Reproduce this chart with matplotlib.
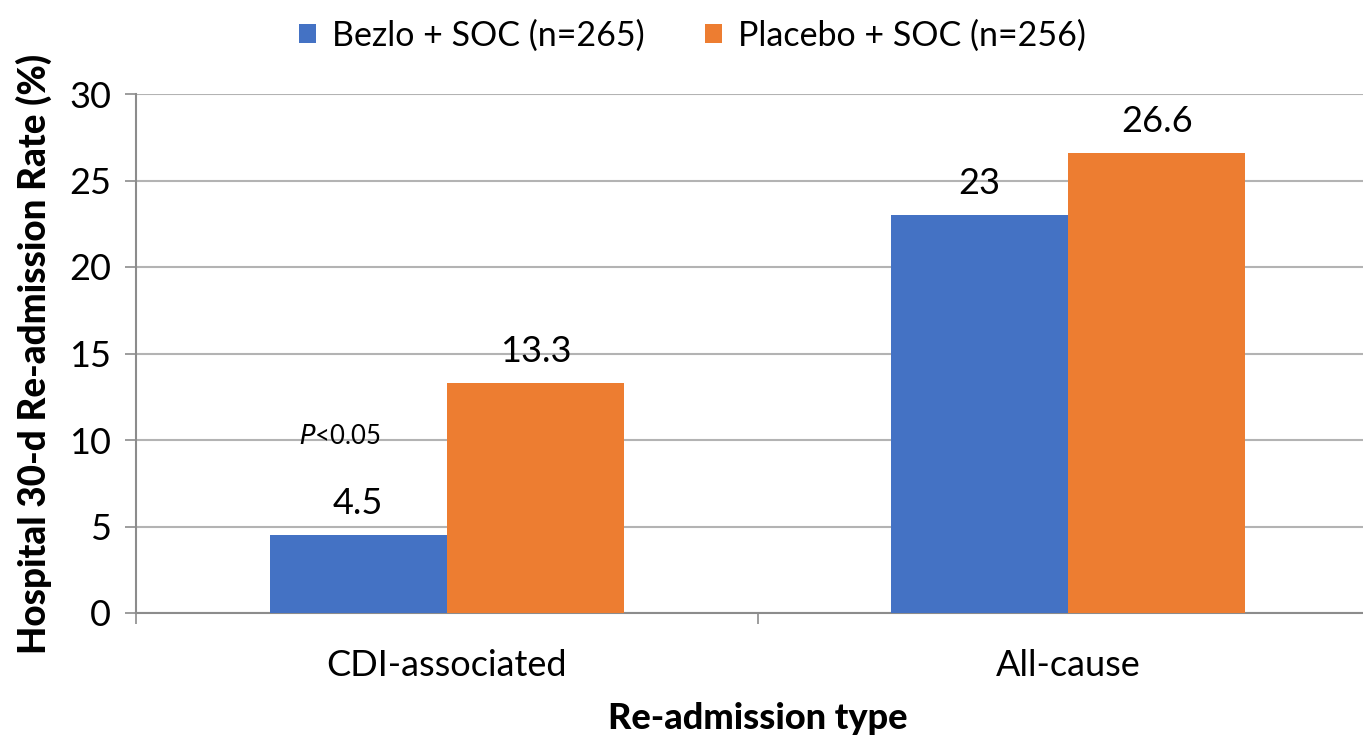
import matplotlib.pyplot as plt
import numpy as np

categories = ["CDI-associated", "All-cause"]
series_names = ["Bezlo + SOC (n=265)", "Placebo + SOC (n=256)"]
bezlo = [4.5, 23]
placebo = [13.3, 26.6]
y_ticks = [0, 5, 10, 15, 20, 25, 30]

BLUE = "#4472C4"
ORANGE = "#ED7D31"
GRID = "#b3b3b3"
SPINE = "#8c8c8c"
FONT = "Lato"

plt.rcParams["font.family"] = [FONT, "DejaVu Sans"]

fig = plt.figure(figsize=(13.63, 7.38), dpi=100)
ax = fig.add_axes([136 / 1363, 125 / 738, 1243 / 1363, 519 / 738])

x = np.arange(len(categories))
w = 0.285
b1 = ax.bar(x - w / 2, bezlo, w, color=BLUE, label=series_names[0], zorder=3)
b2 = ax.bar(x + w / 2, placebo, w, color=ORANGE, label=series_names[1], zorder=3)

for bars, vals in ((b1, bezlo), (b2, placebo)):
    for rect, v in zip(bars, vals):
        ax.annotate(f"{v:g}", (rect.get_x() + rect.get_width() / 2, v),
                    xytext=(0, 11), textcoords="offset points",
                    ha="center", va="bottom", fontsize=26, color="black")

ax.text(x[0] - w / 2 - 0.03, 10.2, r"$\it{P}$<0.05", ha="center", va="center",
        fontsize=18.5, color="black")

ax.set_xlim(-0.5, 1.5)
ax.set_ylim(0, 30)
ax.set_yticks(y_ticks)
ax.set_xticks(x)
ax.set_xticklabels(categories)
ax.set_xticks([-0.5, 0.5, 1.5], minor=True)
ax.tick_params(axis="x", which="major", length=0, pad=26, labelsize=26)
ax.tick_params(axis="x", which="minor", length=8, color=SPINE, width=1.2)
ax.tick_params(axis="y", length=8, color=SPINE, width=1.2, pad=10, labelsize=26)

ax.yaxis.grid(True, color=GRID, linewidth=1.5, zorder=0)
for s in ("top", "right"):
    ax.spines[s].set_visible(False)
for s in ("left", "bottom"):
    ax.spines[s].set_color(SPINE)
    ax.spines[s].set_linewidth(1.5)

ax.set_ylabel("Hospital 30-d Re-admission Rate (%)", fontsize=26.5,
              fontweight="black", labelpad=12)
ax.set_xlabel("Re-admission type", fontsize=26, fontweight="black", labelpad=14)

fig.legend(loc="upper center", bbox_to_anchor=(0.508, 1.015), ncol=2, frameon=False,
           fontsize=24.5, handlelength=0.5, handleheight=0.5, handletextpad=0.45,
           columnspacing=1.8)

fig.savefig("out.png", dpi=100)
